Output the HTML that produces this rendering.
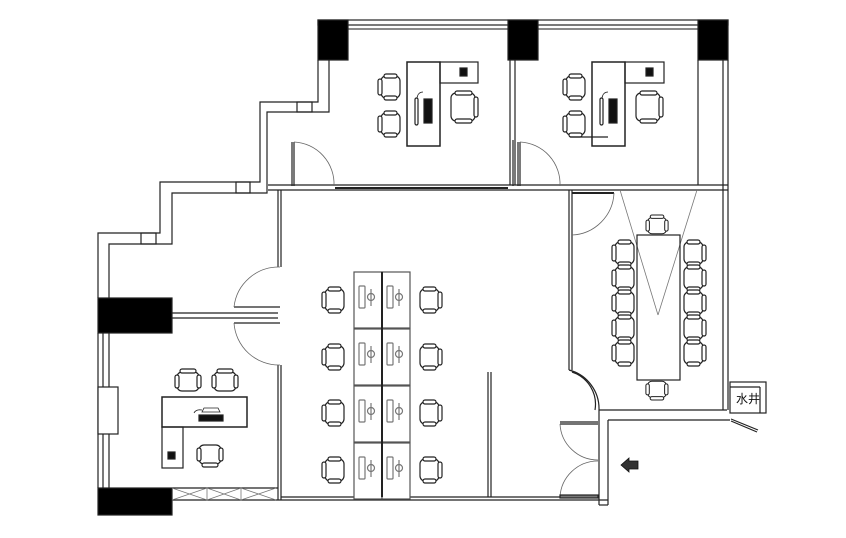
<!DOCTYPE html>
<html><head><meta charset="utf-8"><style>
html,body{margin:0;padding:0;background:#fff;width:846px;height:538px;overflow:hidden}
svg{display:block}
text{font-family:"Liberation Sans","Noto Sans CJK SC",sans-serif}
</style></head><body>
<svg width="846" height="538" viewBox="0 0 846 538" xmlns="http://www.w3.org/2000/svg" fill="none" stroke="#222" stroke-width="1.2">
<defs>
 <g id="chv">
  <rect x="2" y="3" width="22" height="19" rx="5" fill="#fff"/>
  <rect x="0" y="6" width="4" height="13" rx="2" fill="#fff"/>
  <rect x="22" y="6" width="4" height="13" rx="2" fill="#fff"/>
  <rect x="5" y="0" width="16" height="4" rx="2" fill="#fff"/>
 </g>
 <g id="chh">
  <rect x="3" y="2" width="19" height="22" rx="5" fill="#fff"/>
  <rect x="6" y="0" width="13" height="4" rx="2" fill="#fff"/>
  <rect x="6" y="22" width="13" height="4" rx="2" fill="#fff"/>
  <rect x="0" y="5" width="4" height="16" rx="2" fill="#fff"/>
 </g>
 <g id="chb">
  <rect x="3" y="2" width="24" height="28" rx="5" fill="#fff"/>
  <rect x="6" y="0" width="17" height="4" rx="2" fill="#fff"/>
  <rect x="6" y="28" width="17" height="4" rx="2" fill="#fff"/>
  <rect x="0" y="6" width="4" height="20" rx="2" fill="#fff"/>
 </g>
 <g id="ws">
  <rect x="0" y="0" width="28" height="56" stroke="#555" fill="#fff"/>
  <rect x="5" y="14" width="6" height="22" rx="1" stroke="#777"/>
  <circle cx="17" cy="25" r="3.5" stroke="#777"/>
  <line x1="17" y1="17" x2="17" y2="34" stroke="#777"/>
 </g>
</defs>

<rect x="318" y="20" width="410" height="5"/>
<line x1="348" y1="29" x2="698" y2="29" stroke="#444"/>
<rect x="318" y="20" width="30" height="40" fill="#000"/>
<rect x="508" y="20" width="30" height="40" fill="#000"/>
<rect x="698" y="20" width="30" height="40" fill="#000"/>
<line x1="723" y1="60" x2="723" y2="410"/>
<line x1="728" y1="60" x2="728" y2="410"/>
<line x1="698" y1="60" x2="698" y2="185"/>
<line x1="510" y1="60" x2="510" y2="185"/>
<line x1="515" y1="60" x2="515" y2="185"/>
<line x1="513" y1="140" x2="513" y2="186"/>
<line x1="268" y1="185" x2="728" y2="185"/>
<line x1="268" y1="190" x2="728" y2="190"/>
<line x1="335" y1="188" x2="508" y2="188" stroke-width="2"/>
<line x1="292" y1="142" x2="292" y2="186"/>
<line x1="294" y1="142" x2="294" y2="186"/>
<path d="M294 142 A42 42 0 0 1 334 186" stroke="#666" stroke-width="0.8"/>
<line x1="518" y1="142" x2="518" y2="186"/>
<line x1="520" y1="142" x2="520" y2="186"/>
<path d="M520 142 A42 42 0 0 1 560 186" stroke="#666" stroke-width="0.8"/>

<polyline points="318,60 318,102 260,102 260,182 160,182 160,233 98,233 98,298"/>
<polyline points="329,60 329,112 267,112 267,193 172,193 172,244 109,244 109,298"/>
<rect x="297" y="102" width="15" height="10"/>
<rect x="236" y="182" width="14" height="11"/>
<rect x="141" y="233" width="15" height="11"/>

<rect x="98" y="298" width="74" height="35" fill="#000"/>
<rect x="98" y="488" width="74" height="27" fill="#000"/>
<line x1="98" y1="333" x2="98" y2="488"/>
<line x1="103" y1="333" x2="103" y2="488"/>
<line x1="109" y1="333" x2="109" y2="488"/>
<rect x="98" y="387" width="20" height="47" fill="#fff"/>
<line x1="172" y1="313" x2="278" y2="313"/>
<line x1="172" y1="318" x2="278" y2="318"/>
<line x1="278" y1="190" x2="278" y2="267"/>
<line x1="281" y1="190" x2="281" y2="267"/>
<line x1="278" y1="365" x2="278" y2="500"/>
<line x1="281" y1="365" x2="281" y2="500"/>
<line x1="234" y1="307" x2="280" y2="307"/>
<line x1="234" y1="323" x2="280" y2="323"/>
<path d="M280 267 A45 45 0 0 0 234 307" stroke="#666" stroke-width="0.8"/>
<path d="M234 323 A45 45 0 0 0 280 365" stroke="#666" stroke-width="0.8"/>
<line x1="172" y1="488" x2="278" y2="488"/>
<line x1="172" y1="500" x2="608" y2="500"/>
<line x1="281" y1="497" x2="560" y2="497"/>
<g stroke="#777" stroke-width="0.8">
 <line x1="207" y1="488" x2="207" y2="500"/><line x1="241" y1="488" x2="241" y2="500"/>
 <path d="M172 488 L207 500 M172 500 L207 488 M207 488 L241 500 M207 500 L241 488 M241 488 L276 500 M241 500 L276 488"/>
</g>
<use href="#chv" x="175" y="369"/>
<use href="#chv" x="212" y="369"/>
<rect x="162" y="397" width="85" height="30" stroke-width="1.5"/>
<rect x="162" y="427" width="21" height="41"/>
<rect x="168" y="452" width="7" height="7" fill="#111"/>
<rect x="199" y="415" width="24" height="6" fill="#111"/>
<path d="M202 412 h18 l-2 -4 h-14z" stroke-width="0.8"/>
<path d="M194 413 q2 -4 8 -3" stroke-width="0.8"/>
<g transform="translate(223,467) rotate(180)"><use href="#chv"/></g>

<rect x="407" y="62" width="33" height="84" stroke-width="1.5"/>
<rect x="440" y="62" width="38" height="21"/>
<rect x="460" y="68" width="7" height="8" fill="#111"/>
<rect x="424" y="99" width="8" height="24" fill="#111"/>
<rect x="415" y="98" width="3" height="27" rx="1.5"/>
<path d="M417 98 q1 -6 6 -6" stroke-width="0.8"/>
<use href="#chh" x="378" y="74"/>
<use href="#chh" x="378" y="111"/>
<g transform="translate(478,91) scale(-1,1)"><use href="#chb"/></g>

<rect x="592" y="62" width="33" height="84" stroke-width="1.5"/>
<rect x="625" y="62" width="39" height="21"/>
<rect x="646" y="68" width="7" height="8" fill="#111"/>
<rect x="609" y="99" width="8" height="24" fill="#111"/>
<rect x="600" y="98" width="3" height="27" rx="1.5"/>
<path d="M602 98 q1 -6 6 -6" stroke-width="0.8"/>
<use href="#chh" x="563" y="74"/>
<use href="#chh" x="563" y="111"/>
<g transform="translate(663,91) scale(-1,1)"><use href="#chb"/></g>
<line x1="570" y1="137" x2="608" y2="137"/>

<g>
 <use href="#ws" x="354" y="272"/><use href="#ws" x="382" y="272"/>
 <use href="#ws" x="354" y="329"/><use href="#ws" x="382" y="329"/>
 <use href="#ws" x="354" y="386"/><use href="#ws" x="382" y="386"/>
 <use href="#ws" x="354" y="443"/><use href="#ws" x="382" y="443"/>
</g>
<line x1="382" y1="272" x2="382" y2="497" stroke-width="2"/>
<use href="#chh" x="322" y="287"/><use href="#chh" x="322" y="344"/>
<use href="#chh" x="322" y="400"/><use href="#chh" x="322" y="457"/>
<g transform="translate(442,287) scale(-1,1)"><use href="#chh"/></g>
<g transform="translate(442,344) scale(-1,1)"><use href="#chh"/></g>
<g transform="translate(442,400) scale(-1,1)"><use href="#chh"/></g>
<g transform="translate(442,457) scale(-1,1)"><use href="#chh"/></g>
<line x1="488" y1="372" x2="488" y2="497"/>
<line x1="491" y1="372" x2="491" y2="497"/>

<line x1="569" y1="190" x2="569" y2="236"/>
<line x1="572" y1="190" x2="572" y2="236"/>
<line x1="572" y1="193" x2="614" y2="193" stroke-width="2"/>
<path d="M614 193 A44 44 0 0 1 572 235" stroke="#666" stroke-width="0.8"/>
<line x1="569" y1="236" x2="569" y2="370"/>
<line x1="572" y1="236" x2="572" y2="370"/>
<path d="M569 370 A40 40 0 0 1 599 410"/>
<path d="M572 372 A34 34 0 0 1 595 410"/>
<line x1="599" y1="410" x2="727" y2="410"/>
<line x1="608" y1="420" x2="730" y2="420"/>
<line x1="599" y1="410" x2="599" y2="505"/>
<line x1="608" y1="420" x2="608" y2="505"/>
<line x1="599" y1="505" x2="608" y2="505"/>
<g stroke="#777" stroke-width="0.8">
 <line x1="620" y1="190" x2="658" y2="315"/><line x1="697" y1="190" x2="658" y2="315"/>
</g>
<rect x="637" y="235" width="43" height="145" fill="none"/>
<g transform="translate(646,215)"><use href="#chv" transform="scale(0.85,0.85)"/></g>
<g transform="translate(668,400) rotate(180)"><use href="#chv" transform="scale(0.85,0.85)"/></g>
<use href="#chh" x="612" y="240"/>
<use href="#chh" x="612" y="265"/><use href="#chh" x="612" y="290"/>
<use href="#chh" x="612" y="315"/><use href="#chh" x="612" y="340"/>
<g transform="translate(706,0) scale(-1,1)">
 <use href="#chh" x="0" y="240"/><use href="#chh" x="0" y="265"/><use href="#chh" x="0" y="290"/><use href="#chh" x="0" y="315"/><use href="#chh" x="0" y="340"/>
</g>
<rect x="730" y="382" width="36" height="31"/>
<line x1="730" y1="387" x2="760" y2="387"/>
<line x1="760" y1="387" x2="760" y2="413"/>
<text x="736" y="403" font-size="12" fill="#111" stroke="none">水井</text>
<line x1="731" y1="419" x2="758" y2="430"/>
<line x1="731" y1="421" x2="757" y2="432"/>

<line x1="560" y1="422" x2="598" y2="422"/>
<line x1="560" y1="424" x2="598" y2="424"/>
<path d="M560 424 A38 38 0 0 0 598 460" stroke="#666" stroke-width="0.8"/>
<path d="M598 461 A38 38 0 0 0 560 497" stroke="#666" stroke-width="0.8"/>
<rect x="560" y="495" width="38" height="3" fill="#777"/>
<polygon points="621,465 629,458 629,461 638,461 638,469 629,469 629,472" fill="#333" stroke="#111" stroke-width="0.8"/>
</svg>
</body></html>
